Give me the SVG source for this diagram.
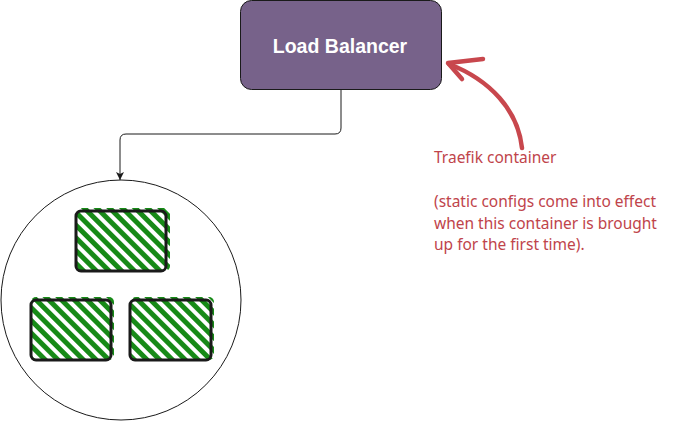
<svg xmlns="http://www.w3.org/2000/svg" width="682" height="421" viewBox="0 0 682 421">
<style>
.lbl{font-family:"Liberation Sans",Arial,sans-serif;font-size:19.5px;font-weight:bold;fill:#ffffff}
.note{font-family:"Noto Sans","Liberation Sans",sans-serif;font-size:15.5px;fill:#c0444b}
.box{fill:none;stroke:#1a1a1a;stroke-width:3;stroke-linejoin:round}
.hatch{fill:url(#h)}
</style>
<defs>
<pattern id="h" width="9" height="9" patternUnits="userSpaceOnUse" patternTransform="rotate(-45)">
<rect x="0" y="0" width="5" height="9" fill="#178a17"/>
</pattern>
<marker id="ah" markerWidth="10" markerHeight="10" refX="9" refY="5" orient="auto" markerUnits="userSpaceOnUse">
<path d="M1,1 L9,5 L1,9 L3,5 Z" fill="#1a1a1a"/>
</marker>
</defs>
<g id="connectors">
<path d="M341,90 V128 Q341,134 335,134 H126 Q120,134 120,140 V180" fill="none" stroke="#1a1a1a" stroke-width="1" marker-end="url(#ah)"/>
<path d="M522,148 C518,110 490,80 449,64" fill="none" stroke="#c8474d" stroke-width="4.5" stroke-linecap="round"/>
<path d="M483,59 L448,63 L462,79" fill="none" stroke="#c8474d" stroke-width="4.5" stroke-linecap="round" stroke-linejoin="round"/>
</g>
<g id="load-balancer">
<rect x="240.5" y="0.5" width="201" height="89" rx="11" fill="#77628a" stroke="#1a1a1a" stroke-width="1"/>
<text class="lbl" x="340" y="53" text-anchor="middle">Load Balancer</text>
</g>
<g id="cluster">
<circle cx="121" cy="300" r="120" fill="#ffffff" stroke="#1a1a1a" stroke-width="1"/>
</g>
<g id="container-1">
<rect class="hatch" x="77" y="208" width="93" height="63" rx="5"/>
<rect class="box" x="76" y="211" width="90" height="60" rx="5"/>
</g>
<g id="container-2">
<rect class="hatch" x="31" y="297" width="83" height="63" rx="5"/>
<rect class="box" x="31" y="300" width="80" height="60" rx="5"/>
</g>
<g id="container-3">
<rect class="hatch" x="131" y="297" width="83" height="63" rx="5"/>
<rect class="box" x="130" y="300" width="81" height="60" rx="5"/>
</g>
<g id="note">
<text class="note" x="434" y="163">Traefik container</text>
<text class="note" x="434" y="207">(static configs come into effect</text>
<text class="note" x="434" y="229">when this container is brought</text>
<text class="note" x="434" y="250">up for the first time).</text>
</g>
</svg>
